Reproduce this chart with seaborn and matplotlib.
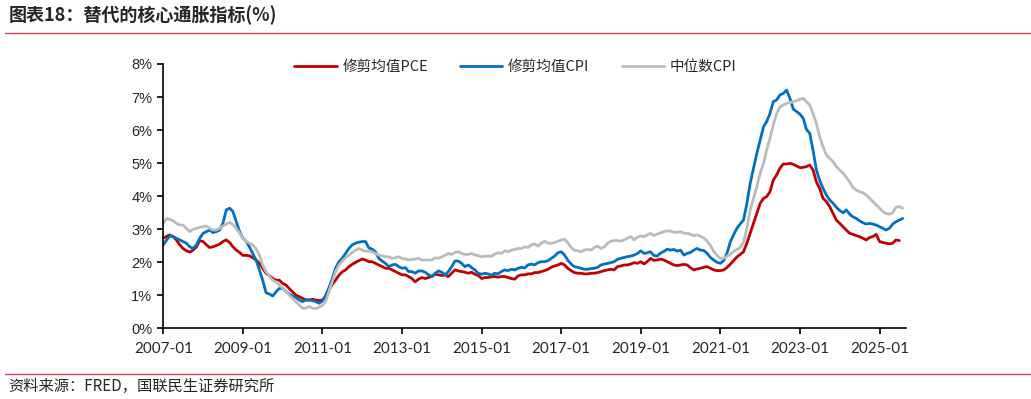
import matplotlib
matplotlib.use("Agg")
import matplotlib.pyplot as plt
from matplotlib.lines import Line2D
from matplotlib.ticker import FuncFormatter
import seaborn as sns
import pandas as pd


# 数据：月度同比（%），起始 2007-01
start_month = "2007-01-01"
series_names = ["修剪均值PCE", "修剪均值CPI", "中位数CPI"]

trimmed_pce = [
    2.72, 2.78, 2.82, 2.77, 2.67, 2.52, 2.41, 2.34, 2.30, 2.36,
    2.46, 2.65, 2.62, 2.52, 2.44, 2.46, 2.50, 2.54, 2.62, 2.67,
    2.59, 2.46, 2.36, 2.29, 2.20, 2.20, 2.19, 2.13, 2.06, 1.96,
    1.81, 1.66, 1.58, 1.50, 1.45, 1.45, 1.35, 1.30, 1.20, 1.10,
    1.00, 0.95, 0.90, 0.85, 0.85, 0.87, 0.85, 0.83, 0.85, 0.95,
    1.15, 1.32, 1.45, 1.60, 1.70, 1.76, 1.86, 1.93, 1.99, 2.04,
    2.09, 2.06, 2.01, 2.01, 1.96, 1.91, 1.86, 1.81, 1.81, 1.76,
    1.71, 1.66, 1.61, 1.61, 1.56, 1.50, 1.40, 1.48, 1.53, 1.50,
    1.53, 1.56, 1.63, 1.61, 1.59, 1.61, 1.56, 1.66, 1.76, 1.73,
    1.71, 1.69, 1.66, 1.69, 1.63, 1.59, 1.50, 1.53, 1.53, 1.55,
    1.56, 1.54, 1.56, 1.56, 1.53, 1.50, 1.48, 1.58, 1.61, 1.61,
    1.64, 1.64, 1.68, 1.68, 1.71, 1.74, 1.78, 1.84, 1.88, 1.91,
    1.96, 1.91, 1.81, 1.74, 1.68, 1.66, 1.66, 1.64, 1.64, 1.66,
    1.66, 1.68, 1.71, 1.74, 1.76, 1.78, 1.76, 1.86, 1.88, 1.91,
    1.91, 1.94, 1.98, 1.96, 2.01, 1.94, 2.01, 2.11, 2.05, 2.06,
    2.09, 2.06, 2.01, 1.96, 1.91, 1.89, 1.91, 1.93, 1.91, 1.83,
    1.76, 1.79, 1.81, 1.84, 1.86, 1.81, 1.76, 1.74, 1.74, 1.76,
    1.83, 1.93, 2.04, 2.15, 2.23, 2.31, 2.57, 2.87, 3.17, 3.47,
    3.78, 3.93, 3.98, 4.13, 4.48, 4.64, 4.84, 4.97, 4.97, 4.99,
    4.96, 4.91, 4.86, 4.87, 4.89, 4.94, 4.79, 4.43, 4.23, 3.93,
    3.83, 3.68, 3.47, 3.27, 3.17, 3.07, 2.97, 2.87, 2.84, 2.80,
    2.77, 2.72, 2.67, 2.74, 2.77, 2.84, 2.62, 2.59, 2.57, 2.55,
    2.57, 2.67, 2.65,
]

trimmed_cpi = [
    2.52, 2.67, 2.79, 2.77, 2.72, 2.67, 2.62, 2.57, 2.46, 2.41,
    2.52, 2.72, 2.87, 2.92, 2.97, 2.89, 2.92, 2.97, 3.17, 3.58,
    3.63, 3.53, 3.22, 2.92, 2.72, 2.62, 2.46, 2.26, 2.06, 1.76,
    1.45, 1.07, 1.03, 0.97, 1.10, 1.20, 1.20, 1.10, 1.03, 0.97,
    0.93, 0.85, 0.80, 0.85, 0.85, 0.83, 0.80, 0.75, 0.82, 1.00,
    1.22, 1.50, 1.81, 2.01, 2.11, 2.26, 2.41, 2.52, 2.57, 2.60,
    2.62, 2.62, 2.43, 2.39, 2.31, 2.11, 2.03, 1.96, 1.86, 1.91,
    1.93, 1.86, 1.81, 1.83, 1.71, 1.71, 1.66, 1.73, 1.73, 1.69,
    1.61, 1.56, 1.66, 1.73, 1.69, 1.61, 1.71, 1.86, 2.03, 2.03,
    1.96, 1.86, 1.91, 1.83, 1.76, 1.66, 1.63, 1.66, 1.64, 1.60,
    1.66, 1.64, 1.71, 1.76, 1.74, 1.78, 1.76, 1.81, 1.84, 1.82,
    1.91, 1.94, 1.91, 1.98, 2.01, 2.01, 2.04, 2.11, 2.18, 2.28,
    2.31, 2.21, 2.06, 1.94, 1.86, 1.84, 1.81, 1.78, 1.78, 1.80,
    1.81, 1.84, 1.91, 1.94, 1.96, 1.98, 2.01, 2.08, 2.11, 2.14,
    2.16, 2.18, 2.21, 2.26, 2.34, 2.26, 2.28, 2.31, 2.20, 2.18,
    2.27, 2.32, 2.39, 2.36, 2.38, 2.33, 2.36, 2.21, 2.26, 2.29,
    2.36, 2.41, 2.36, 2.35, 2.26, 2.14, 2.06, 1.99, 1.96, 2.05,
    2.25, 2.60, 2.82, 3.02, 3.15, 3.27, 3.78, 4.38, 4.84, 5.29,
    5.70, 6.10, 6.25, 6.50, 6.86, 6.91, 7.06, 7.11, 7.21, 6.96,
    6.63, 6.56, 6.48, 6.35, 6.02, 5.90, 5.39, 4.79, 4.48, 4.23,
    4.03, 3.88, 3.78, 3.66, 3.56, 3.49, 3.58, 3.45, 3.37, 3.32,
    3.25, 3.19, 3.15, 3.17, 3.15, 3.12, 3.07, 3.02, 2.97, 3.02,
    3.15, 3.22, 3.27, 3.32,
]

median_cpi = [
    3.17, 3.32, 3.29, 3.25, 3.17, 3.12, 3.12, 3.02, 2.92, 2.99,
    3.02, 3.05, 3.07, 3.09, 3.02, 2.97, 2.97, 3.02, 3.09, 3.15,
    3.20, 3.14, 3.02, 2.87, 2.72, 2.62, 2.57, 2.52, 2.41, 2.21,
    1.91, 1.71, 1.56, 1.45, 1.40, 1.30, 1.20, 1.10, 1.00, 0.90,
    0.80, 0.70, 0.60, 0.60, 0.65, 0.60, 0.59, 0.63, 0.68, 0.82,
    1.10, 1.40, 1.71, 1.91, 2.03, 2.13, 2.21, 2.29, 2.36, 2.41,
    2.36, 2.33, 2.33, 2.31, 2.26, 2.21, 2.19, 2.16, 2.16, 2.11,
    2.13, 2.16, 2.11, 2.09, 2.06, 2.08, 2.09, 2.11, 2.06, 2.06,
    2.06, 2.06, 2.13, 2.11, 2.16, 2.21, 2.26, 2.23, 2.29, 2.31,
    2.26, 2.23, 2.23, 2.26, 2.21, 2.19, 2.16, 2.18, 2.18, 2.17,
    2.24, 2.28, 2.26, 2.34, 2.31, 2.36, 2.38, 2.41, 2.41, 2.46,
    2.44, 2.52, 2.55, 2.48, 2.57, 2.63, 2.57, 2.57, 2.59, 2.63,
    2.67, 2.69, 2.59, 2.44, 2.36, 2.34, 2.31, 2.36, 2.38, 2.36,
    2.44, 2.48, 2.41, 2.46, 2.57, 2.63, 2.65, 2.65, 2.63, 2.67,
    2.72, 2.77, 2.67, 2.75, 2.79, 2.77, 2.82, 2.87, 2.80, 2.85,
    2.88, 2.92, 2.94, 2.94, 2.90, 2.90, 2.92, 2.87, 2.87, 2.84,
    2.80, 2.82, 2.78, 2.73, 2.63, 2.50, 2.32, 2.20, 2.11, 2.12,
    2.17, 2.23, 2.32, 2.38, 2.44, 2.60, 3.02, 3.58, 3.93, 4.28,
    4.69, 4.99, 5.39, 5.75, 6.15, 6.50, 6.69, 6.76, 6.81, 6.83,
    6.86, 6.89, 6.93, 6.96, 6.86, 6.76, 6.50, 6.20, 5.80, 5.49,
    5.24, 5.14, 5.04, 4.89, 4.79, 4.69, 4.57, 4.43, 4.26, 4.18,
    4.13, 4.10, 4.03, 3.93, 3.83, 3.73, 3.63, 3.53, 3.47, 3.45,
    3.49, 3.66, 3.68, 3.63,
]

x_tick_labels = ["2007-01", "2009-01", "2011-01", "2013-01", "2015-01",
                 "2017-01", "2019-01", "2021-01", "2023-01", "2025-01"]
y_ticks = [0, 1, 2, 3, 4, 5, 6, 7, 8]

colors = {"修剪均值PCE": "#C00000", "修剪均值CPI": "#0070C0", "中位数CPI": "#BBBBBB"}


# 长表
frames = []
for name, vals in zip(series_names, [trimmed_pce, trimmed_cpi, median_cpi]):
    frames.append(pd.DataFrame({
        "date": pd.date_range(start_month, periods=len(vals), freq="MS"),
        "value": vals,
        "series": name,
    }))
df = pd.concat(frames, ignore_index=True)


sns.set_theme(style="ticks")
plt.rcParams["font.family"] = ["Noto Sans CJK SC", "DejaVu Sans"]

fig = plt.figure(figsize=(10.31, 3.99), dpi=100)
ax = fig.add_axes([0.1584, 0.1779, 0.7204, 0.6617])

sns.lineplot(data=df, x="date", y="value", hue="series", hue_order=series_names,
             palette=colors, linewidth=2.0, ax=ax)

# 坐标轴
ax.set_xlim(pd.Timestamp("2007-01-01"), pd.Timestamp("2025-09-01"))
ax.set_ylim(0, 8)
ax.set_xticks(pd.to_datetime(x_tick_labels))
ax.set_xticklabels(x_tick_labels)
ax.set_yticks(y_ticks)
ax.yaxis.set_major_formatter(FuncFormatter(lambda v, p: f"{int(v)}%"))
ax.set_xlabel("")
ax.set_ylabel("")
sns.despine(ax=ax)
for side in ["left", "bottom"]:
    ax.spines[side].set_color("black")
    ax.spines[side].set_linewidth(1.2)
ax.tick_params(axis="both", direction="out", length=4, width=1.2, color="black")
ax.tick_params(axis="x", pad=6, labelsize=11)
ax.tick_params(axis="y", pad=4, labelsize=10.5)
for lbl in ax.get_xticklabels():
    lbl.set_fontfamily("Lato")
for lbl in ax.get_yticklabels():
    lbl.set_fontfamily("Liberation Sans")

# 图例
sns.move_legend(ax, "center", bbox_to_anchor=(0.474, 0.99), ncol=3, frameon=False,
                title=None, fontsize=10.5, handlelength=2.9, handletextpad=0.4,
                columnspacing=2.2)

# 标题、分隔线、来源
fig.text(0.008, 1 - 15 / 399, "图表18：替代的核心通胀指标(%)", fontsize=13,
         fontweight="bold", va="center", ha="left")
fig.add_artist(Line2D([0.005, 1.0], [1 - 33 / 399, 1 - 33 / 399],
                      color="#D04050", linewidth=1.0))
fig.add_artist(Line2D([0.005, 1.0], [1 - 374 / 399, 1 - 374 / 399],
                      color="#D04050", linewidth=1.0))
fig.text(0.008, 1 - 386 / 399, "资料来源：FRED，国联民生证券研究所", fontsize=11,
         va="center", ha="left")

fig.savefig("out.png", dpi=100)
